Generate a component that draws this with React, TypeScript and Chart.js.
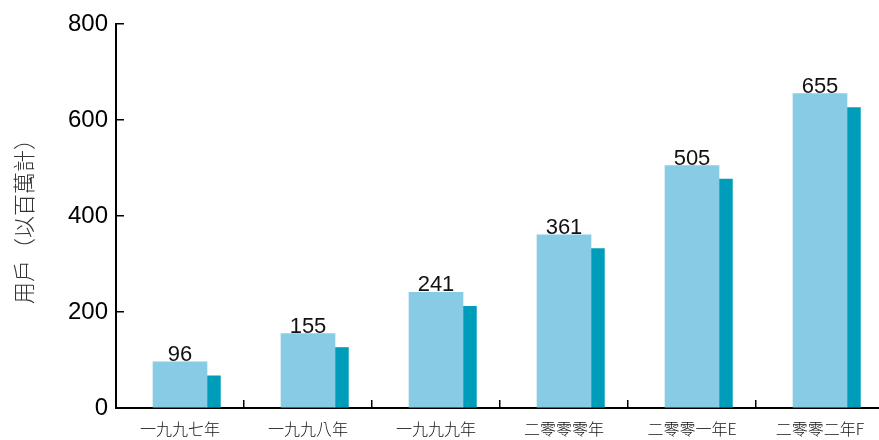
import React, { useEffect, useRef } from "react";
import { Chart, registerables } from "chart.js";

Chart.register(...registerables);

const categories = ["一九九七年", "一九九八年", "一九九九年", "二零零零年", "二零零一年E", "二零零二年F"];
const userValues = [96, 155, 241, 361, 505, 655];
const sideValues = [67, 126, 212, 332, 477, 626];
const yTicks = [0, 200, 400, 600, 800];
const yTitle = "用戶（以百萬計）";

const LIGHT = "#87CBE5";
const DARK = "#009DBB";
const SIDE_SHIFT = 0.263;

const CANVAS_W = 892;
const CANVAS_H = 452;

const valueLabels = {
  id: "valueLabels",
  afterDatasetsDraw(chart: any) {
    const meta = chart.getDatasetMeta(0);
    const ctx = chart.ctx;
    ctx.save();
    ctx.font = "22px 'Liberation Sans', Arial, sans-serif";
    ctx.fillStyle = "#111";
    ctx.textAlign = "center";
    ctx.textBaseline = "alphabetic";
    meta.data.forEach((bar: any, i: number) => {
      ctx.fillText(String(userValues[i]), bar.x, bar.y - 1);
    });
    ctx.restore();
  },
};

export default function App() {
  const ref = useRef<HTMLCanvasElement | null>(null);
  useEffect(() => {
    if (!ref.current) return;
    const chart = new Chart(ref.current, {
      type: "bar",
      data: {
        labels: categories,
        datasets: [
          {
            label: "用戶",
            data: userValues,
            backgroundColor: LIGHT,
            barThickness: 54,
            grouped: false,
            xAxisID: "x",
            yAxisID: "y",
          },
          {
            label: "side",
            data: sideValues.map((v, i) => ({ x: i + SIDE_SHIFT, y: v })) as any,
            backgroundColor: DARK,
            barThickness: 13.5,
            grouped: false,
            xAxisID: "x2",
            yAxisID: "y",
          },
        ],
      },
      options: {
        responsive: false,
        animation: false,
        devicePixelRatio: 1,
        layout: { padding: { top: 24, right: CANVAS_W - 884, left: 0, bottom: 0 } },
        plugins: { legend: { display: false }, tooltip: { enabled: false } },
        scales: {
          x: {
            type: "category",
            position: "bottom",
            offset: true,
            grid: {
              display: true,
              offset: true,
              drawOnChartArea: false,
              drawTicks: true,
              tickLength: -8,
              color: "#000",
              lineWidth: 1.5,
            },
            border: { display: true, color: "#000", width: 2 },
            ticks: {
              color: "#111",
              padding: 19,
              maxRotation: 0,
              autoSkip: false,
              font: { family: "'Noto Sans CJK TC', 'Noto Sans CJK SC', sans-serif", size: 16, weight: 300 as any },
            },
            afterFit(scale: any) {
              scale.height = CANVAS_H - 408;
              scale.paddingLeft = 0;
              scale.paddingRight = 0;
            },
          },
          x2: {
            type: "linear",
            position: "bottom",
            display: false,
            min: -0.5,
            max: categories.length - 0.5,
            offset: false,
          },
          y: {
            type: "linear",
            min: 0,
            max: 800,
            afterBuildTicks(scale: any) {
              scale.ticks = yTicks.map((v) => ({ value: v }));
            },
            grid: {
              display: true,
              drawOnChartArea: false,
              drawTicks: true,
              tickLength: -8,
              color: "#000",
              lineWidth: 1.5,
            },
            border: { display: true, color: "#000", width: 2 },
            ticks: {
              color: "#000",
              padding: 16,
              font: { family: "'Liberation Sans', Arial, sans-serif", size: 24 },
            },
            title: {
              display: true,
              text: yTitle,
              color: "#333",
              padding: { top: 10, bottom: 0 },
              font: { family: "'Noto Sans CJK TC', 'Noto Sans CJK SC', sans-serif", size: 22, weight: 300 as any },
            },
            afterFit(scale: any) {
              scale.width = 116;
              scale.paddingTop = 0;
              scale.paddingBottom = 0;
            },
          },
        },
      },
      plugins: [valueLabels],
    });
    return () => chart.destroy();
  }, []);

  return (
    <div style={{ position: "fixed", left: 0, top: 0, width: 879, height: 440, overflow: "hidden", background: "#fff" }}>
      <canvas ref={ref} width={CANVAS_W} height={CANVAS_H} style={{ display: "block", width: CANVAS_W, height: CANVAS_H }} />
    </div>
  );
}
